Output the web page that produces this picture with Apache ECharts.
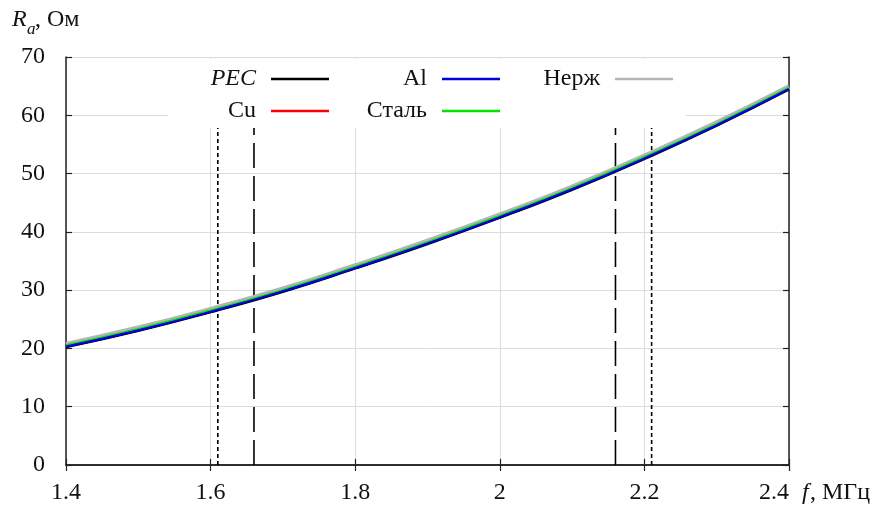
<!DOCTYPE html>
<html><head><meta charset="utf-8">
<script src="https://cdn.jsdelivr.net/npm/echarts@6/dist/echarts.min.js"></script>
<style>html,body{margin:0;padding:0;background:#fff}#c{width:893px;height:510px}</style>
</head><body><div id="c"></div>
<script>
var freq = [1.4, 1.5, 1.6, 1.7, 1.8, 1.9, 2.0, 2.1, 2.2, 2.3, 2.4];
var pec   = [20.2, 23.0, 26.2, 29.7, 33.7, 37.9, 42.4, 47.2, 52.5, 58.2, 64.4];
var cu    = [20.3, 23.1, 26.3, 29.8, 33.8, 38.0, 42.5, 47.3, 52.6, 58.3, 64.5];
var al    = [20.3, 23.1, 26.3, 29.8, 33.8, 38.0, 42.5, 47.3, 52.6, 58.3, 64.5];
var steel = [20.5, 23.3, 26.5, 30.0, 34.0, 38.2, 42.7, 47.5, 52.8, 58.5, 64.7];
var nerzh = [20.7, 23.5, 26.7, 30.2, 34.2, 38.4, 42.9, 47.7, 53.0, 58.7, 64.9];
var shortDashF = [1.61, 2.21];
var longDashF = [1.66, 2.16];
var markerTop = 57.8;

var FONT = 'Liberation Serif';
var FS = 24;
function pairs(xs, ys){ return xs.map(function(x,i){ return [x, ys[i]]; }); }
function vline(f, dash, name){
  return {name: name, type:'line', data:[[f,0],[f,markerTop]], showSymbol:false, silent:true,
    lineStyle:{color:'#000', width:1.6, type:dash}, z:1};
}
function curve(name, data, color, width, z){
  return {name:name, type:'line', data:pairs(freq, data), smooth:true, showSymbol:false,
    color:color, lineStyle:{color:color, width:width}, itemStyle:{color:color}, z:z};
}
function leg(name, right, top, italic){
  return {data:[name], right:right, top:top, padding:0, align:'right', icon:'rect',
    itemWidth:58, itemHeight:2.5, selectedMode:false, z:10,
    textStyle:{fontFamily:FONT, fontSize:FS, color:'#111', fontStyle: italic?'italic':'normal', padding:[0,10,0,0]}};
}
var chart = echarts.init(document.getElementById('c'), null, {renderer:'canvas'});
var axisLine = {show:true, lineStyle:{color:'#222', width:1.5}};
chart.setOption({
  animation:false,
  backgroundColor:'#fff',
  grid:{left:66, right:104, top:57, bottom:45},
  xAxis:[{type:'value', min:1.4, max:2.4, interval:0.2, position:'bottom',
    axisLine:axisLine, axisTick:{show:true, inside:true, length:6, lineStyle:{color:'#222', width:1.2}},
    axisLabel:{fontFamily:FONT, fontSize:FS, color:'#111', margin:16, alignMaxLabel:'right'},
    splitLine:{show:true, lineStyle:{color:'#dcdcdc', width:1}}},
   {type:'value', min:1.4, max:2.4, interval:0.2, position:'top',
    axisLine:axisLine, axisTick:{show:true, inside:true, length:6, lineStyle:{color:'#222', width:1.2}},
    axisLabel:{show:false}, splitLine:{show:false}}],
  yAxis:[{type:'value', min:0, max:70, interval:10, position:'left',
    axisLine:axisLine, axisTick:{show:true, inside:true, length:6, lineStyle:{color:'#222', width:1.2}},
    axisLabel:{fontFamily:FONT, fontSize:FS, color:'#111', margin:21},
    splitLine:{show:true, lineStyle:{color:'#dcdcdc', width:1}}},
   {type:'value', min:0, max:70, interval:10, position:'right',
    axisLine:axisLine, axisTick:{show:true, inside:true, length:6, lineStyle:{color:'#222', width:1.2}},
    axisLabel:{show:false}, splitLine:{show:false}}],
  legend:[
    leg('PEC', 564, 67, true),
    leg('Al', 393, 67, false),
    leg('Нерж', 220, 67, false),
    leg('Cu', 564, 99, false),
    leg('Сталь', 393, 99, false)
  ],
  graphic:[
    {type:'rect', shape:{x:168, y:59, width:518, height:69}, style:{fill:'#fff'}, z:3, silent:true},
    {type:'text', left:12, top:8, style:{text:'R', font:'italic 24px "Liberation Serif"', fill:'#111'}},
    {type:'text', left:27, top:21, style:{text:'a', font:'italic 17px "Liberation Serif"', fill:'#111'}},
    {type:'text', left:35, top:8, style:{text:', Ом', font:'24px "Liberation Serif"', fill:'#111'}},
    {type:'text', left:802, top:481, style:{text:'f', font:'italic 24px "Liberation Serif"', fill:'#111'}},
    {type:'text', left:810, top:481, style:{text:', МГц', font:'24px "Liberation Serif"', fill:'#111'}}
  ],
  series:[
    vline(shortDashF[0], [4,3], 'd1'),
    vline(shortDashF[1], [4,3], 'd2'),
    vline(longDashF[0], [25,8], 'd3'),
    vline(longDashF[1], [25,8], 'd4'),
    curve('Нерж', nerzh, '#b4b4b4', 5, 2),
    curve('Cu', cu, '#ff0000', 2.2, 3),
    curve('Сталь', steel, '#00e400', 2.5, 4),
    curve('PEC', pec, '#000000', 2.2, 5),
    curve('Al', al, '#0000e0', 2.2, 6)
  ]
});
</script></body></html>
